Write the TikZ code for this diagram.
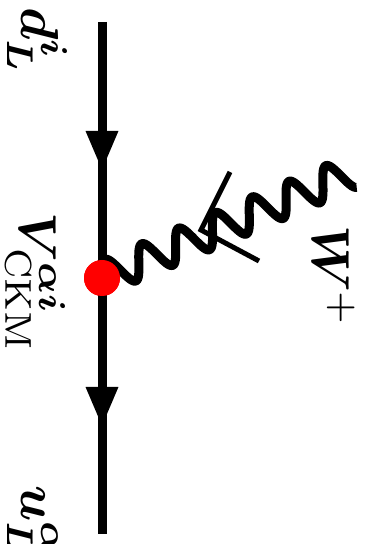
\documentclass[tikz,border=0pt]{standalone}
\usepackage{bm}
\usepackage{tikz}
\usetikzlibrary{arrows.meta, decorations.markings}
\tikzset{
	fermion/.style={
			draw=black,
			line width=0.225cm,
			postaction={decorate},
			decoration={markings, mark=at position #1 with {\arrow{Triangle[width=0.75cm,length=1cm]}}}
		},
	wboson/.style={
			draw=black,
			line width=0.225cm,
			line join=round
		},
	slash/.style={
			draw=black,
			line width=0.125cm
		},
	vertexnode/.style={
			circle,
			fill=red,
			minimum size=0.9cm,
			inner sep=0pt
		},
	labelnode/.style={
			rotate=-90,
			inner sep=0pt,
			anchor=base west,
			scale=3.8
		}
}

\begin{document}
\begin{tikzpicture}
  \useasboundingbox (0,0) rectangle (9.15,13.6);

  \coordinate (top) at (2.55,13.05);
  \coordinate (bottom) at (2.55,0.25);
  \node[vertexnode] (vertex) at (2.55,6.65) {};

  \coordinate (s1) at (5.75,9.3);
  \coordinate (s2) at (5.025,7.85);
  \coordinate (s3) at (6.475,7.075);

  % fermion line
  \path[fermion=0.582] (top) -- (vertex.center);
  \path[fermion=0.582] (vertex.center) -- (bottom);

  % W boson
  \draw[wboson, shift={(vertex.center)}, rotate=23]
    plot[domain=0:6.75, samples=200] (\x,{0.4*sin(360*\x)});
  \draw[slash] (s1) -- (s2) -- (s3);

  \node[vertexnode] at (vertex) {};

  \node[labelnode] (dlabel) at (0.55,13.45) {$\bm{d}_{\bm{L}}^{\bm{i}}$};
  \node[labelnode] (vlabel) at (0.5,8.32) {$\bm{V}_{\rm CKM}^{\bm{\alpha i}}$};
  \node[labelnode] (ulabel) at (0.55,1.5) {$\bm{u}_{\bm{L}}^{\bm{\alpha}}$};
  \node[labelnode] (wlabel) at (7.8,8.0) {$\bm{W}^{+}$};
\end{tikzpicture}
\end{document}
